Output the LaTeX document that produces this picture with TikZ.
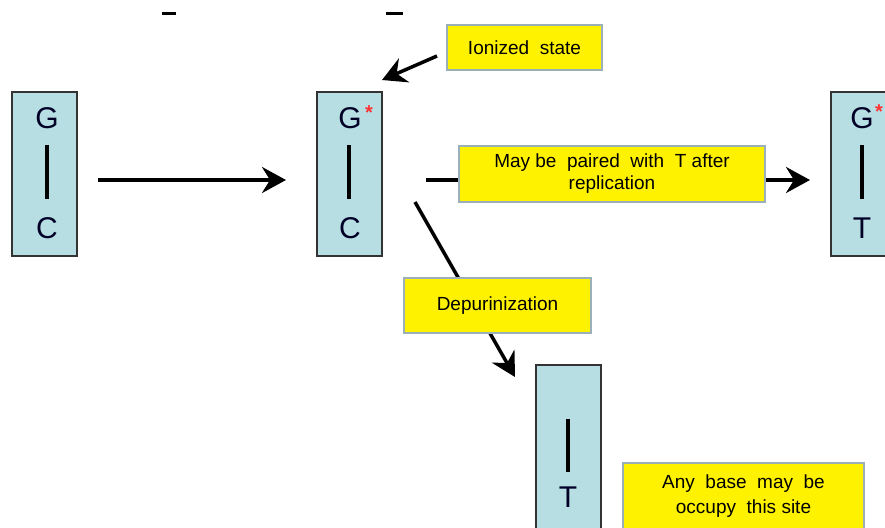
\documentclass[tikz,border=0pt]{standalone}
\usepackage{fontspec}
\setmainfont{Liberation Sans}
\usetikzlibrary{arrows.meta}
\definecolor{boxblue}{HTML}{B7DEE3}
\definecolor{boxedge}{HTML}{333333}
\definecolor{yedge}{HTML}{9AAFB8}
\tikzset{
  basebox/.style={draw=boxedge, line width=2pt, fill=boxblue, minimum width=65pt, minimum height=164pt, inner sep=0pt},
  label/.style={draw=yedge, line width=1.8pt, fill=yellow, inner sep=0pt, align=center, font=\fontsize{19}{22}\selectfont},
  plaintext/.style={inner sep=0pt, align=center, font=\fontsize{19}{25}\selectfont},
  letter/.style={font=\fontsize{30}{30}\selectfont, inner sep=0pt, text=black!85!blue},
  bond/.style={line width=4pt},
  star/.style={font=\fontsize{20}{20}\selectfont\bfseries, text=red!80!white, inner sep=0pt},
  conn/.style={line width=3.5pt, -{Stealth[length=24pt,width=26pt,inset=8pt]}},
  frag/.style={line width=3pt}
}
\begin{document}
\begin{tikzpicture}[x=1pt,y=-1pt]
\useasboundingbox (0,0) rectangle (885,527);
\clip (0,0) rectangle (885,527);
\fill[white] (0,0) rectangle (885,527);
% fragments of cut title
\draw[frag] (162,14) -- (176,14);
\draw[frag] (386,14) -- (403,14);
% boxes
\node[basebox] (b1) at (44.5,174) {};
\node[basebox] (b2) at (349.5,174) {};
\node[basebox] (b3) at (863.5,174) {};
\node[basebox, minimum height=190pt] (b4) at (568.5,460) {};
% box 1
\node[letter] (g1) at (47,118) {G};
\node[letter] (c1) at (47,228) {C};
\coordinate (t1) at (47,145); \coordinate (u1) at (47,199);
\draw[bond] (t1) -- (u1);
% box 2
\node[letter] (g2) at (350,118) {G};
\node[star] (s2) at (369,113) {*};
\node[letter] (c2) at (350,228) {C};
\coordinate (t2) at (349,145); \coordinate (u2) at (349,199);
\draw[bond] (t2) -- (u2);
% box 3
\node[letter] (g3) at (862,118) {G};
\node[star] (s3) at (879,112) {*};
\node[letter] (c3) at (862,228) {T};
\coordinate (t3) at (862,145); \coordinate (u3) at (862,199);
\draw[bond] (t3) -- (u3);
% box 4
\node[letter] (c4) at (568,497) {T};
\coordinate (t4) at (568,419); \coordinate (u4) at (568,472);
\draw[bond] (t4) -- (u4);
% arrows
\coordinate (a1s) at (98,180); \coordinate (a1e) at (286,180);
\draw[conn] (a1s) -- (a1e);
\coordinate (a2s) at (426,180); \coordinate (a2e) at (810,180);
\draw[conn] (a2s) -- (a2e);
\coordinate (a3s) at (415,202); \coordinate (a3e) at (515,377);
\draw[conn] (a3s) -- (a3e);
\coordinate (a4s) at (437,56); \coordinate (a4e) at (382,80);
\draw[conn] (a4s) -- (a4e);
% labels
\node[label, minimum width=155pt, minimum height=45pt] (ion) at (524.5,47.5) {Ionized\ \ state};
\node[label, minimum width=306pt, minimum height=56pt] (pair) at (612,174) {May be\ \ paired\ \ with\ \ T after\\replication};
\node[label, minimum width=187pt, minimum height=55pt] (dep) at (497.5,305.5) {Depurinization};
\node[label, minimum width=241pt, minimum height=84pt] (any) at (743.5,505) {};
\node[plaintext] (anytext) at (743.5,496) {Any\ \ base\ \ may\ \ be\\occupy\ \ this site};
\end{tikzpicture}
\end{document}
